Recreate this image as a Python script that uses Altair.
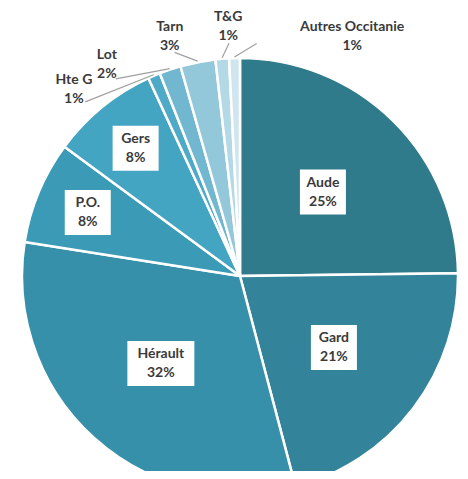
import altair as alt
import pandas as pd

# ---- data ----
names = ["Aude", "Gard", "Hérault", "P.O.", "Gers", "Hte G", "Lot", "Tarn", "T&G", "Autres Occitanie"]
values = [24.8, 21.1, 31.6, 7.6, 8.0, 0.9, 1.6, 2.6, 1.0, 0.8]
pct_labels = ["25%", "21%", "32%", "8%", "8%", "1%", "2%", "3%", "1%", "1%"]
colors = ["#2f7a8b", "#33849a", "#3790a9", "#3b9ab6", "#44a5c3", "#4faac7",
          "#70b7cf", "#93c8da", "#b3d9e6", "#cfe6ee"]

df = pd.DataFrame({"name": names, "value": values, "pct": pct_labels,
                   "idx": list(range(len(names)))})

W, H = 440, 390
R = 218
xs = alt.Scale(domain=[-W / 2, W / 2])
ys = alt.Scale(domain=[-H / 2, H / 2])
color_scale = alt.Scale(domain=names, range=colors)
FONT = "Lato"
TXT = dict(font=FONT, fontWeight="bold", fontSize=14, color="#3a3a3a",
           lineBreak="\n", lineHeight=19, baseline="middle", dy=-9.5)

pie = alt.Chart(df).mark_arc(outerRadius=R, stroke="white", strokeWidth=2.5).encode(
    theta=alt.Theta("value:Q", stack=True),
    color=alt.Color("name:N", scale=color_scale, legend=None),
    order=alt.Order("idx:Q"),
)

base = alt.Chart(df).transform_window(
    cum="sum(value)", sort=[alt.SortField("idx")], frame=[None, 0]
).transform_calculate(mid="datum.cum - datum.value / 2")

# inner labels with white boxes
inner = base.transform_filter("datum.value >= 5").transform_calculate(
    lr="datum.value >= 15 ? 118 : 165",
    a="2 * PI * datum.mid / 100",
    lx="datum.lr * sin(datum.a)",
    ly="datum.lr * cos(datum.a)",
    bw="7 * max(length(datum.name), length(datum.pct)) + 18",
    bx1="datum.lx - datum.bw / 2",
    bx2="datum.lx + datum.bw / 2",
    by1="datum.ly - 22.5",
    by2="datum.ly + 22.5",
    txt="datum.name + '\\n' + datum.pct",
)

boxes = inner.mark_rect(fill="white").encode(
    x=alt.X("bx1:Q", scale=xs, axis=None), x2="bx2:Q",
    y=alt.Y("by1:Q", scale=ys, axis=None), y2="by2:Q",
)
inner_text = inner.mark_text(**TXT).encode(
    x=alt.X("lx:Q", scale=xs, axis=None),
    y=alt.Y("ly:Q", scale=ys, axis=None),
    text="txt:N",
)

# outer labels (small slices) spread around the top, with leader lines
outer = base.transform_filter("datum.value < 5").transform_calculate(
    lt="98.2 + 2.1 * (datum.mid - 98.2)",
    a0="2 * PI * datum.mid / 100",
    a1="2 * PI * datum.lt / 100",
    sx="(%d + 1) * sin(datum.a0)" % R,
    sy="(%d + 1) * cos(datum.a0)" % R,
    ex="233 * sin(datum.a1)",
    ey="233 * cos(datum.a1)",
    orad="datum.lt > 100 ? 240 : 250",
    lx="datum.orad * sin(datum.a1) + (datum.lt > 100 ? 95 : 0)",
    ly="datum.orad * cos(datum.a1)",
    txt="datum.name + '\\n' + datum.pct",
)

leaders = outer.mark_rule(color="#a0a0a0", strokeWidth=1.2).encode(
    x=alt.X("sx:Q", scale=xs, axis=None), x2="ex:Q",
    y=alt.Y("sy:Q", scale=ys, axis=None), y2="ey:Q",
)
outer_text = outer.mark_text(**TXT).encode(
    x=alt.X("lx:Q", scale=xs, axis=None),
    y=alt.Y("ly:Q", scale=ys, axis=None),
    text="txt:N",
)

chart = alt.layer(pie, boxes, inner_text, leaders, outer_text).properties(
    width=W, height=H,
    padding={"left": 12, "top": 73, "right": 0, "bottom": 0},
    autosize=alt.AutoSizeParams(type="none"),
    background="white",
).configure_view(stroke=None)

chart.save("out.html", embed_options={"renderer": "svg", "actions": False})
